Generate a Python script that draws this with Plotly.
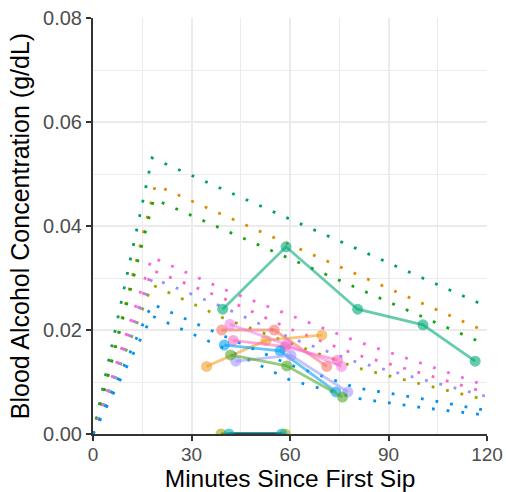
import plotly.graph_objects as go

# ---- Modelled (dotted) BAC curves: minutes and g/dL ----
curve_colors = ["#00A060", "#E08B00", "#12A512", "#F564E3", "#FF61C3",
                "#A3A000", "#9590FF", "#0A8FE8", "#0A8FE8"]
c1_t = [0, 18, 120]
c1_v = [0, 0.0531, 0.0245]
c2_t = [0, 19, 120]
c2_v = [0, 0.0479, 0.0196]
c3_t = [0, 18.5, 120]
c3_v = [0, 0.0452, 0.0171]
c4_t = [0, 18, 40, 60, 80, 100, 120]
c4_v = [0, 0.0340, 0.0278, 0.0229, 0.0179, 0.0136, 0.0092]
c5_t = [0, 18, 40, 60, 80, 100, 120]
c5_v = [0, 0.0315, 0.0260, 0.0202, 0.0153, 0.0117, 0.0079]
c6_t = [0, 18, 40, 60, 80, 100, 120]
c6_v = [0, 0.0287, 0.0222, 0.0175, 0.0128, 0.0096, 0.0065]
c7_t = [0, 18, 40, 60, 80, 100, 120]
c7_v = [0, 0.0300, 0.0243, 0.0185, 0.0139, 0.0105, 0.0072]
c8_t = [0, 18, 40, 60, 80, 100, 120]
c8_v = [0, 0.0250, 0.0188, 0.0133, 0.0089, 0.0068, 0.0045]
c9_t = [0, 18, 40, 60, 80, 100, 120]
c9_v = [0, 0.0227, 0.0165, 0.0104, 0.0069, 0.0051, 0.0036]
curves_t = [c1_t, c2_t, c3_t, c4_t, c5_t, c6_t, c7_t, c8_t, c9_t]
curves_v = [c1_v, c2_v, c3_v, c4_v, c5_v, c6_v, c7_v, c8_v, c9_v]

# ---- Measured BAC (points joined by lines) ----
meas_colors = ["rgba(0,170,120,0.6)", "rgba(243,160,40,0.6)", "rgba(248,118,109,0.6)",
               "rgba(240,120,230,0.55)", "rgba(255,98,188,0.55)", "rgba(0,160,245,0.6)",
               "rgba(149,144,255,0.55)", "rgba(80,170,40,0.6)",
               "rgba(163,165,0,0.6)", "rgba(0,170,180,0.6)"]
m_teal_t = [39.5, 58.8, 80.6, 100.5, 116.4]
m_teal_v = [0.024, 0.036, 0.024, 0.021, 0.014]
m_orange_t = [34.6, 52.7, 69.7]
m_orange_v = [0.013, 0.018, 0.019]
m_salmon_t = [39.2, 55.2, 71.2]
m_salmon_v = [0.020, 0.020, 0.013]
m_pink1_t = [41.7, 59.0, 75.7]
m_pink1_v = [0.0211, 0.0172, 0.0130]
m_pink2_t = [42.7, 58.5, 74.5]
m_pink2_v = [0.0180, 0.0168, 0.0142]
m_blue_t = [40.0, 57.0, 74.0]
m_blue_v = [0.0171, 0.0160, 0.0081]
m_purple_t = [43.5, 60.3, 77.6]
m_purple_v = [0.0140, 0.0151, 0.0081]
m_green_t = [41.9, 59.0, 76.0]
m_green_v = [0.0152, 0.0131, 0.0071]
m_olive_t = [39.0, 58.5]
m_olive_v = [0.0, 0.0]
m_cyan_t = [41.4, 57.5]
m_cyan_v = [0.0, 0.0]
meas_t = [m_teal_t, m_orange_t, m_salmon_t, m_pink1_t, m_pink2_t, m_blue_t,
          m_purple_t, m_green_t, m_olive_t, m_cyan_t]
meas_v = [m_teal_v, m_orange_v, m_salmon_v, m_pink1_v, m_pink2_v, m_blue_v,
          m_purple_v, m_green_v, m_olive_v, m_cyan_v]

x_ticks = [0, 30, 60, 90, 120]
y_ticks = [0, 0.02, 0.04, 0.06, 0.08]
y_ticktext = ["0.00", "0.02", "0.04", "0.06", "0.08"]

fig = go.Figure()
for t, v, col in zip(curves_t, curves_v, curve_colors):
    fig.add_trace(go.Scatter(x=t, y=v, mode="lines",
                             line=dict(color=col, width=2.8, dash="2.8px,12px"),
                             hoverinfo="skip"))
for i, (t, v, col) in enumerate(zip(meas_t, meas_v, meas_colors)):
    lc = col
    if i >= 8:
        lc = "rgba(0,95,105,0.9)"
    fig.add_trace(go.Scatter(x=t, y=v, mode="lines+markers",
                             line=dict(color=lc, width=2.8),
                             marker=dict(color=col, size=11, line=dict(width=0))))

axis_common = dict(
    showgrid=True, gridcolor="#EBEBEB", gridwidth=1.6,
    showline=True, linecolor="#333333", linewidth=2,
    ticks="outside", ticklen=5, tickwidth=2, tickcolor="#333333",
    zeroline=False, layer="below traces", automargin=False,
)
fig.update_layout(
    width=506, height=492,
    margin=dict(l=93, r=19, t=18, b=58),
    paper_bgcolor="white", plot_bgcolor="white",
    showlegend=False,
    font=dict(family="Liberation Sans, Arial, sans-serif", color="black"),
    xaxis=dict(range=[0, 120], tickvals=x_ticks,
               tickfont=dict(size=19, color="#4D4D4D"), ticklabelstandoff=-3,
               minor=dict(tickvals=[15, 45, 75, 105], showgrid=True,
                          gridcolor="#EBEBEB", gridwidth=1.1, ticks=""),
               title=dict(text="Minutes Since First Sip", font=dict(size=24.5, color="black"),
                          standoff=8),
               **axis_common),
    yaxis=dict(range=[0, 0.08], tickvals=y_ticks, ticktext=y_ticktext,
               tickfont=dict(size=20, color="#4D4D4D"),
               minor=dict(tickvals=[0.01, 0.03, 0.05, 0.07], showgrid=True,
                          gridcolor="#EBEBEB", gridwidth=1.1, ticks=""),
               title=dict(text="Blood Alcohol Concentration (g/dL)",
                          font=dict(size=25, color="black"), standoff=6),
               **axis_common),
)
fig.write_html("out.html", config={"displayModeBar": False},
               post_script="document.body.style.margin='0px';document.body.style.padding='0px';")
